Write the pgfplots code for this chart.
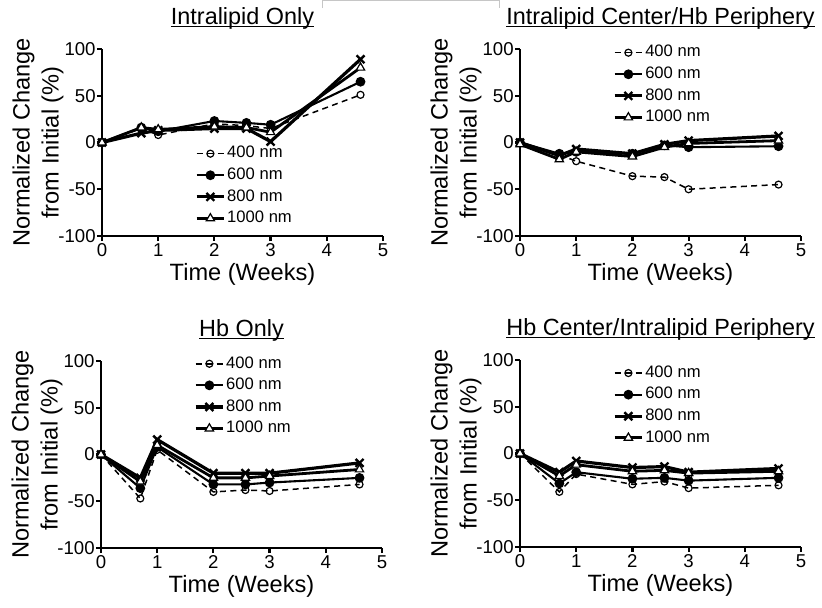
\documentclass[border=0pt]{standalone}
\usepackage{pgfplots}
\pgfplotsset{compat=1.18}
\usepackage{fontspec}
\setmainfont{Liberation Sans}

\newcommand{\ttl}[1]{\underline{\smash{#1}}}
\newcommand{\legfont}{\fontsize{8.3}{9.6}\selectfont}

\pgfplotsset{
  panel/.style={
    scale only axis, width=140.5pt, height=93.5pt,
    xmin=0, xmax=5, ymin=-100, ymax=100,
    axis lines*=left,
    axis line style={line width=1.3pt},
    xtick={0,1,2,3,4,5}, ytick={-100,-50,0,50,100},
    tick align=outside, major tick length=2.5pt,
    tick style={line width=1.1pt, black},
    ticklabel style={font=\fontsize{9.3}{10}\selectfont},
    xticklabel style={inner sep=1pt},
    yticklabel style={inner sep=0.5pt},
    /pgf/number format/assume math mode=true,
    xlabel={Time (Weeks)},
    ylabel={Normalized Change\\from Initial (\%)},
    xlabel style={at={(axis description cs:0.5,0)}, anchor=base, yshift=-22pt,
      font=\fontsize{11.8}{14}\selectfont},
    ylabel style={at={(axis description cs:-0.228,0.5)}, anchor=center, align=center,
      font=\fontsize{11.8}{14.5}\selectfont},
    title style={at={(axis description cs:0.5,1)}, anchor=base, yshift=6.5pt,
      font=\fontsize{11.7}{13}\selectfont},
    clip=false,
    legend cell align=left,
    legend style={draw=none, fill=none, anchor=north west, inner sep=0pt,
      font=\legfont, row sep=1.9pt,
      nodes={inner sep=0.8pt, font=\legfont}},
    legend image code/.code={
      \draw[mark repeat=2, mark phase=2] plot coordinates {(0cm,0cm) (0.24cm,0cm) (0.48cm,0cm)};},
  },
  s400/.style={black, dashed, dash pattern=on 3pt off 2.2pt, line width=0.75pt,
    mark=o, mark size=1.75pt, mark options={solid, fill=white, line width=0.6pt}},
  s600/.style={black, line width=1.05pt, mark=*, mark size=1.9pt},
  s800/.style={black, line width=1.6pt, mark=x, mark size=2.8pt, mark options={line width=1.2pt}},
  s1000/.style={black, line width=1.4pt, mark=triangle*, mark size=2.4pt,
    mark options={fill=white, line width=0.6pt}},
}

\begin{document}
\begin{tikzpicture}
\useasboundingbox (-51pt,-185.5pt) rectangle (360pt,118pt);
\draw[gray!45, line width=0.5pt] (110pt,114pt) -- (110pt,117.6pt) -- (198.5pt,117.6pt) -- (198.5pt,114pt);

% Intralipid only
\begin{axis}[panel, at={(0pt,0pt)}, title={\ttl{Intralipid Only}},
  legend style={at={(axis description cs:0.33,0.49)}}]
\addplot[s400] coordinates {(0,0) (0.7,15) (1,8) (2,20) (2.57,18) (3,15) (4.6,51)};
\addplot[s600] coordinates {(0,0) (0.7,16) (1,12) (2,23) (2.57,21) (3,19) (4.6,65)};
\addplot[s800] coordinates {(0,0) (0.7,10) (1,13) (2,15) (2.57,15) (3,1) (4.6,89)};
\addplot[s1000] coordinates {(0,0) (0.7,16) (1,14) (2,17) (2.57,16) (3,11) (4.6,80)};
\legend{400 nm, 600 nm, 800 nm, 1000 nm}
\end{axis}

% Intralipid center / Hb periphery
\begin{axis}[panel, at={(209pt,0pt)}, title={\ttl{Intralipid Center/Hb Periphery}},
  legend style={at={(axis description cs:0.33,1.03)}}]
\addplot[s400] coordinates {(0,0) (0.7,-13) (1,-20) (2,-36) (2.57,-37) (3,-50) (4.6,-45)};
\addplot[s600] coordinates {(0,0) (0.7,-12) (1,-10) (2,-12) (2.57,-3) (3,-5) (4.6,-4)};
\addplot[s800] coordinates {(0,0) (0.7,-14) (1,-7) (2,-12) (2.57,-2) (3,2) (4.6,7)};
\addplot[s1000] coordinates {(0,-2) (0.7,-18) (1,-10) (2,-15) (2.57,-5) (3,-1) (4.6,2)};
\legend{400 nm, 600 nm, 800 nm, 1000 nm}
\end{axis}

% Hb only
\begin{axis}[panel, at={(-0.5pt,-156pt)}, title={\ttl{Hb Only}},
  legend style={at={(axis description cs:0.33,1.035)}}]
\addplot[s400] coordinates {(0,0) (0.7,-47) (1,5) (2,-40) (2.57,-38) (3,-39) (4.6,-32)};
\addplot[s600] coordinates {(0,0) (0.7,-36) (1,8) (2,-32) (2.57,-32) (3,-30) (4.6,-25)};
\addplot[s800] coordinates {(0,0) (0.7,-25) (1,16) (2,-20) (2.57,-20) (3,-20) (4.6,-9)};
\addplot[s1000] coordinates {(0,0) (0.7,-29) (1,10) (2,-25) (2.57,-25) (3,-23) (4.6,-16)};
\legend{400 nm, 600 nm, 800 nm, 1000 nm}
\end{axis}

% Hb center / Intralipid periphery
\begin{axis}[panel, at={(209pt,-155.5pt)}, title={\ttl{Hb Center/Intralipid Periphery}},
  legend style={at={(axis description cs:0.33,0.98)}}]
\addplot[s400] coordinates {(0,0) (0.7,-41) (1,-22) (2,-33) (2.57,-30) (3,-37) (4.6,-34)};
\addplot[s600] coordinates {(0,0) (0.7,-32) (1,-20) (2,-27) (2.57,-26) (3,-29) (4.6,-26)};
\addplot[s800] coordinates {(0,0) (0.7,-20) (1,-8) (2,-15) (2.57,-14) (3,-20) (4.6,-16)};
\addplot[s1000] coordinates {(0,0) (0.7,-24) (1,-12) (2,-19) (2.57,-18) (3,-21) (4.6,-19)};
\legend{400 nm, 600 nm, 800 nm, 1000 nm}
\end{axis}
\end{tikzpicture}
\end{document}
